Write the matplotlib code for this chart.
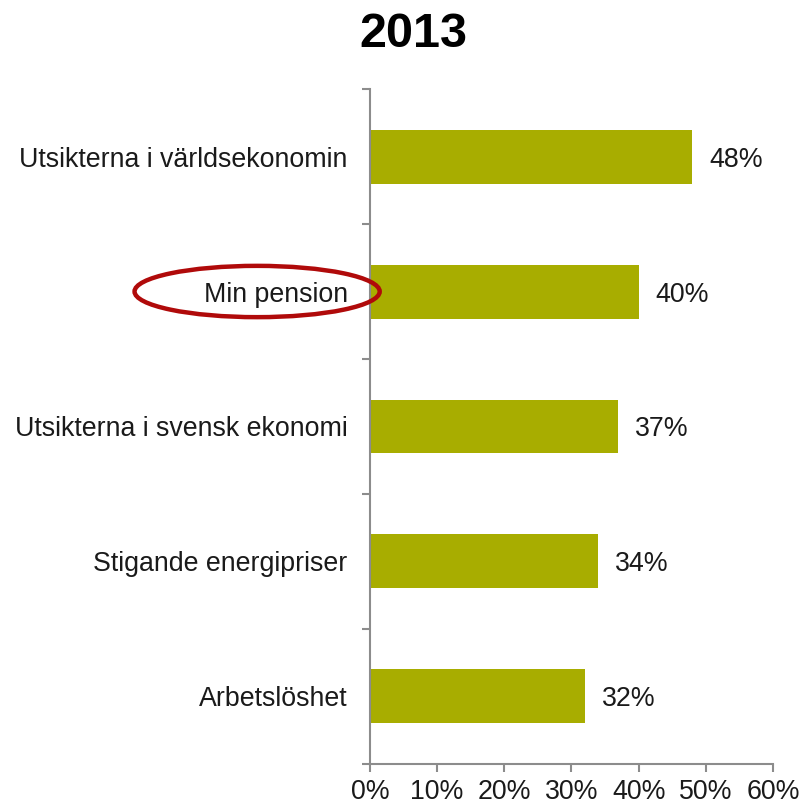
import matplotlib.pyplot as plt
from matplotlib.patches import Ellipse
from matplotlib.ticker import FuncFormatter

plt.rcParams['font.family'] = ['Liberation Sans', 'DejaVu Sans']

# data
categories = ['Utsikterna i världsekonomin', 'Min pension',
              'Utsikterna i svensk ekonomi', 'Stigande energipriser', 'Arbetslöshet']
values = [48, 40, 37, 34, 32]
title = '2013'
highlight = 'Min pension'

bar_color = '#A8AD00'
spine_color = '#8C8C8C'
text_color = '#1A1A1A'
fs = 19.3

fig = plt.figure(figsize=(8.02, 8.07), dpi=100)
ax = fig.add_axes([0.4613, 0.0533, 0.5025, 0.8364])

pos = list(range(len(categories)))
ax.barh(pos, values, height=0.4, color=bar_color, zorder=2)

ax.set_xlim(0, 60)
ax.set_ylim(len(categories) - 0.5, -0.5)

# value labels
for p, v in zip(pos, values):
    ax.annotate(f'{v}%', (v, p), xytext=(12, 0), textcoords='offset points',
                va='center_baseline', ha='left', fontsize=fs, color=text_color)

# axes styling
for s in ['top', 'right']:
    ax.spines[s].set_visible(False)
ax.spines['left'].set_color(spine_color)
ax.spines['bottom'].set_color(spine_color)
ax.spines['left'].set_linewidth(1.5)
ax.spines['bottom'].set_linewidth(1.5)

ax.set_xticks(range(0, 61, 10))
ax.xaxis.set_major_formatter(FuncFormatter(lambda x, _: f'{x:.0f}%'))
ax.tick_params(axis='x', length=6, width=1.5, color=spine_color, pad=5,
               labelsize=fs, labelcolor=text_color)

# category boundaries as major ticks, labels on minor ticks
ax.set_yticks([p - 0.5 for p in pos] + [len(pos) - 0.5])
ax.set_yticklabels([])
ax.set_yticks(pos, minor=True)
ax.set_yticklabels(categories, minor=True)
ax.tick_params(axis='y', which='major', length=6, width=1.5, color=spine_color)
ax.tick_params(axis='y', which='minor', length=0, pad=16,
               labelsize=fs, labelcolor=text_color)

fig.text(0.515, 0.957, title, ha='center', va='center',
         fontsize=35, fontweight='bold', color='black')

# red ring around the highlighted category label
hi = categories.index(highlight)
ring = Ellipse((-16.8, hi), width=36.5, height=0.38, fill=False,
               edgecolor='#B00A0A', linewidth=3.2, clip_on=False, zorder=5)
ax.add_patch(ring)

fig.savefig('out.png', dpi=100)
